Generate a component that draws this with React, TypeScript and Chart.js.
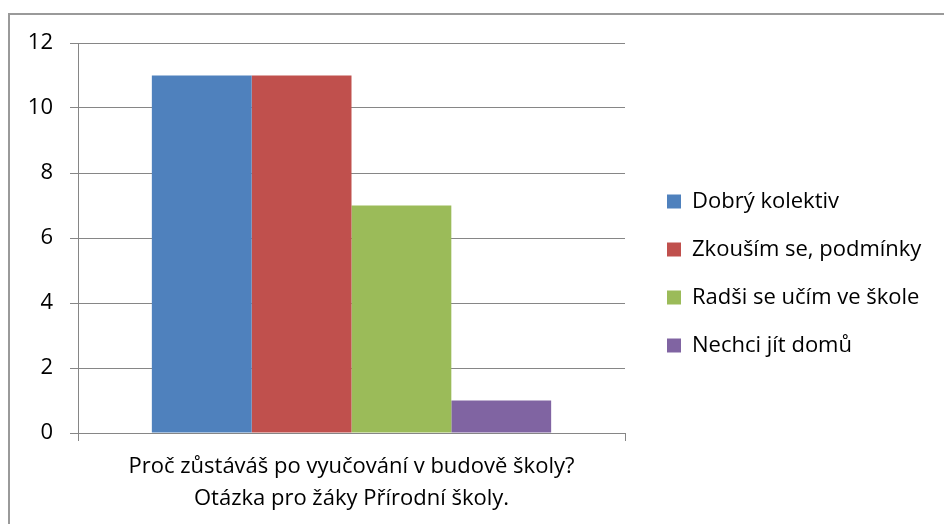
import React, { useEffect, useRef } from "react";
import { Chart, registerables } from "chart.js";

Chart.register(...registerables);

const categories: string[][] = [
  ["Proč zůstáváš po vyučování v budově školy?", "Otázka pro žáky Přírodní školy."],
];
const seriesNames = ["Dobrý kolektiv", "Zkouším se, podmínky", "Radši se učím ve škole", "Nechci jít domů"];
const seriesValues = [11, 11, 7, 1];
const seriesColors = ["#4F81BD", "#C0504D", "#9BBB59", "#8064A2"];
const yTicks = [0, 2, 4, 6, 8, 10, 12];

const FONT = "'Open Sans', 'Noto Sans', sans-serif";
const GRID = "#868686";
const FS = 22;

const legendWidthPlugin = {
  id: "legendWidth",
  afterInit(chart: any) {
    const lg = chart.legend;
    if (!lg || lg.__patched) return;
    const orig = lg.fit.bind(lg);
    lg.fit = function () {
      orig();
      this.width = 303;
    };
    lg.__patched = true;
  },
  afterLayout(chart: any) {
    const lg = chart.legend;
    if (lg) {
      lg.bottom = lg.bottom - 20;
      lg.height = lg.bottom - lg.top;
    }
  },
};

export default function App() {
  const ref = useRef<HTMLCanvasElement | null>(null);
  useEffect(() => {
    if (!ref.current) return;
    const chart = new Chart(ref.current, {
      type: "bar",
      data: {
        labels: categories as any,
        datasets: seriesNames.map((name, i) => ({
          label: name,
          data: [seriesValues[i]],
          backgroundColor: seriesColors[i],
          borderWidth: 0,
          categoryPercentage: 0.73,
          barPercentage: 1,
        })),
      },
      options: {
        animation: false,
        responsive: false,
        maintainAspectRatio: false,
        layout: { padding: { left: 20, top: 43, bottom: 0, right: 0 } },
        plugins: {
          tooltip: { enabled: false },
          legend: {
            position: "right",
            align: "center",
            labels: {
              boxWidth: 14,
              boxHeight: 14,
              padding: 26,
              color: "#000",
              font: { family: FONT, size: FS },
            },
          },
        },
        scales: {
          x: {
            grid: { offset: true, drawOnChartArea: false, drawTicks: true, tickLength: 8, color: GRID },
            border: { display: true, color: GRID },
            ticks: {
              color: "#000",
              font: { family: FONT, size: FS, lineHeight: 32 / FS },
              padding: 10,
              maxRotation: 0,
              autoSkip: false,
            },
            afterFit: (s: any) => {
              s.height = 91;
            },
          },
          y: {
            min: 0,
            max: 12,
            afterBuildTicks: (s: any) => {
              s.ticks = yTicks.map((v) => ({ value: v }));
            },
            ticks: { color: "#000", font: { family: FONT, size: FS }, padding: 17 },
            grid: { color: GRID, tickLength: 8 },
            border: { display: true, color: GRID },
            afterFit: (s: any) => {
              s.width = 58;
            },
          },
          y2: {
            type: "linear",
            position: "right",
            display: true,
            grid: { display: false },
            border: { display: false },
            ticks: { display: false },
            afterFit: (s: any) => {
              s.width = 16;
            },
          },
        },
      } as any,
      plugins: [legendWidthPlugin],
    });
    return () => chart.destroy();
  }, []);
  return (
    <div style={{ position: "absolute", left: 0, top: 0, width: 944, height: 524, overflow: "hidden", background: "#fff" }}>
      <div
        style={{
          position: "absolute",
          left: 8,
          top: 13,
          width: 960,
          height: 600,
          border: "2px solid #9a9a9a",
          boxSizing: "border-box",
        }}
      />
      <canvas ref={ref} width={944} height={524} style={{ position: "absolute", left: 0, top: 0 }} />
    </div>
  );
}
